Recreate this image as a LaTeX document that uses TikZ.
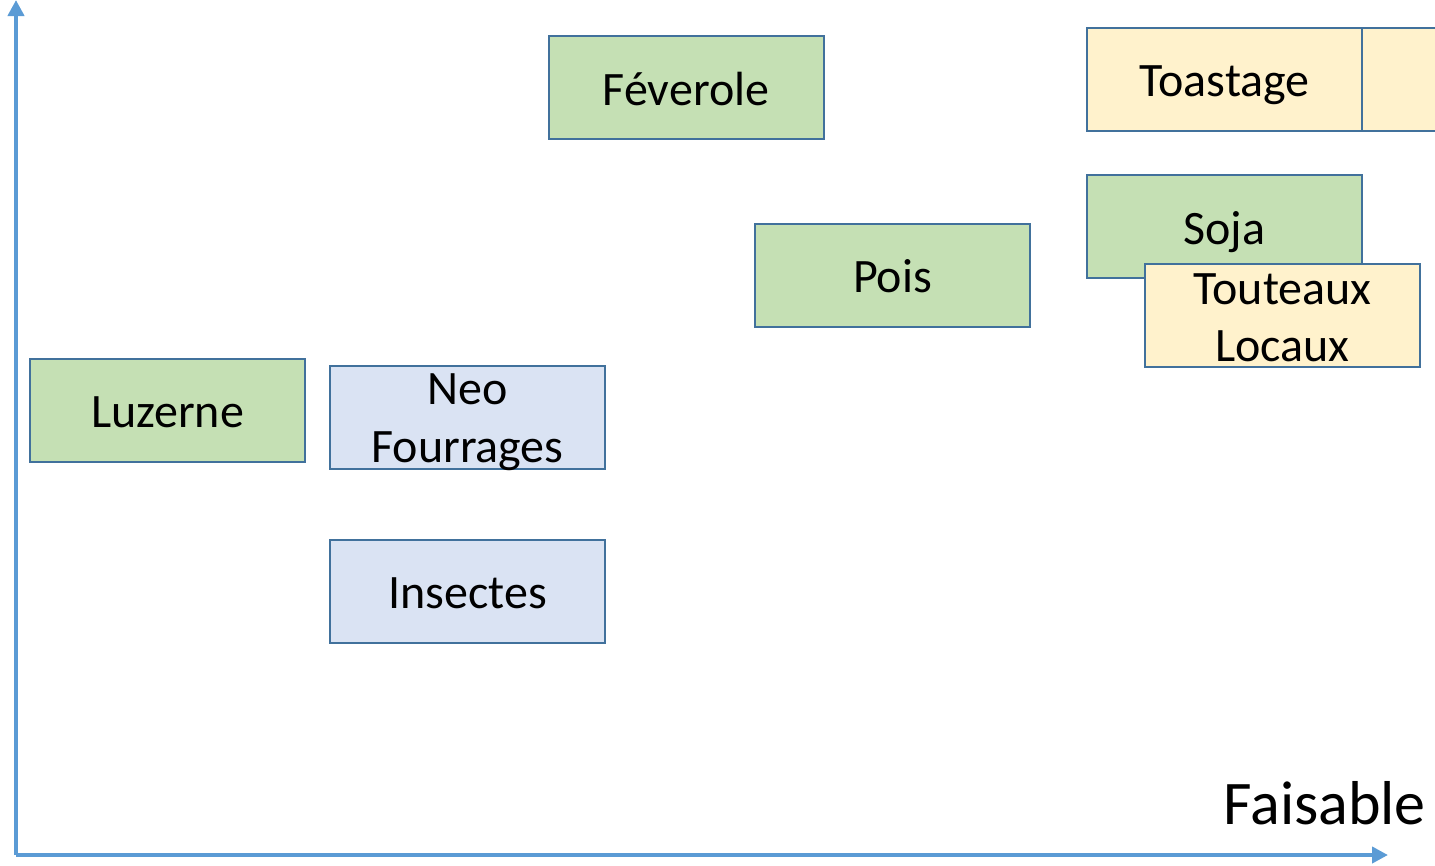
\documentclass[tikz,border=0pt]{standalone}
\usepackage{fontspec}
\setmainfont{Carlito}
\usetikzlibrary{arrows.meta}
\definecolor{axisblue}{HTML}{5B9BD5}
\definecolor{boxline}{HTML}{41719C}
\definecolor{gfill}{HTML}{C5E0B4}
\definecolor{yfill}{HTML}{FFF2CC}
\definecolor{bfill}{HTML}{DAE3F3}
\begin{document}
\begin{tikzpicture}[x=1pt,y=-1pt,
  box/.style={draw=boxline,line width=2pt,minimum width=275pt,minimum height=103pt,inner sep=0pt,outer sep=0pt},
  gbox/.style={box,fill=gfill},
  ybox/.style={box,fill=yfill},
  bbox/.style={box,fill=bfill},
  txt/.style={font=\fontsize{48}{57}\selectfont,align=center,inner sep=0pt,anchor=base},
  axis/.style={draw=axisblue,line width=4pt,-{Triangle[width=16pt,length=16pt]}}]
\useasboundingbox (0,0) rectangle (1435,865);
\clip (0,0) rectangle (1435,865);
\coordinate (origin) at (16,855);
\coordinate (ytop) at (16,0);
\coordinate (xend) at (1388,855);
\draw[axis] (origin) -- (ytop);
\draw[axis] (origin) -- (xend);
\node[gbox] (feverole) at (686,87.5) {};
\node[txt] (fevt) at (686,105) {Féverole};
\node[gbox] (pois) at (892.5,275.5) {};
\node[txt] (poist) at (892.5,292) {Pois};
\node[ybox] (toast2) at (1499.5,79.5) {};
\node[ybox] (toastage) at (1224.5,79.5) {};
\node[txt] (toastt) at (1224.5,96) {Toastage};
\node[gbox] (soja) at (1224.5,226.5) {};
\node[txt] (sojat) at (1224.5,244) {Soja};
\node[ybox] (touteaux) at (1282.5,315) {};
\node[txt] (tout1) at (1282.5,304) {Touteaux};
\node[txt] (tout2) at (1282.5,361) {Locaux};
\node[gbox] (luzerne) at (167.5,410) {};
\node[txt] (luzt) at (167.5,427) {Luzerne};
\node[bbox] (neo) at (467.5,417.5) {};
\node[txt] (neo1) at (467.5,404) {Neo};
\node[txt] (neo2) at (467.5,462) {Fourrages};
\node[bbox] (insectes) at (467.5,591.5) {};
\node[txt] (inst) at (467.5,608) {Insectes};
\node[font=\fontsize{62}{70}\selectfont,anchor=base east,inner sep=0pt] (faisable) at (1426,824) {Faisable};
\end{tikzpicture}
\end{document}
